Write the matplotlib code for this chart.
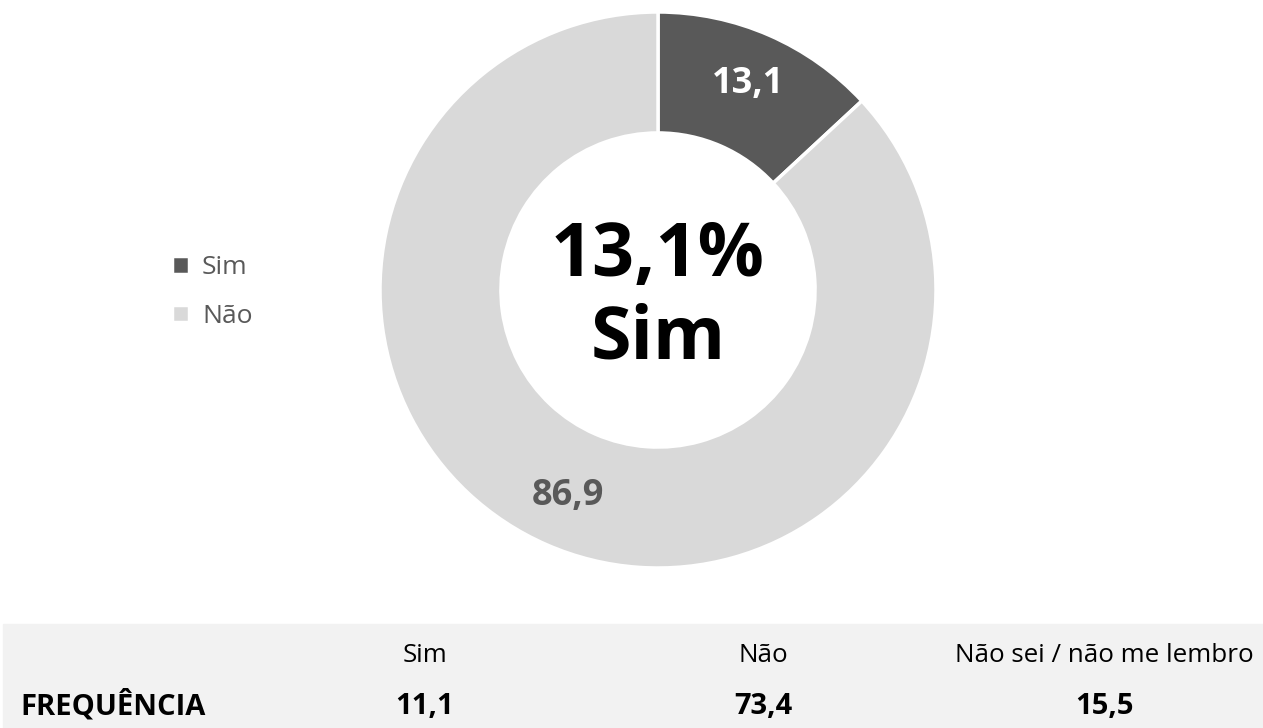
import matplotlib
matplotlib.use("Agg")
import matplotlib.pyplot as plt
from matplotlib.patches import Rectangle

plt.rcParams['font.family'] = ['Open Sans', 'DejaVu Sans']

# donut data
labels = ["Sim", "Não"]
values = [13.1, 86.9]
colors = ["#595959", "#d9d9d9"]
label_colors = ["white", "#595959"]
center_text = "13,1%\nSim"

# table data
table_header = ["Sim", "Não", "Não sei / não me lembro"]
table_row_name = "FREQUÊNCIA"
table_values = [11.1, 73.4, 15.5]


def fmt(v):
    return f"{v:.1f}".replace(".", ",")


fig = plt.figure(figsize=(12.63, 7.28), dpi=100)

# donut axes, square, centred near (658, 290) px
cx, cy, half = 658, 290, 280
ax = fig.add_axes([(cx - half) / 1263, (728 - cy - half) / 728,
                   2 * half / 1263, 2 * half / 728])
wedges, _, autotexts = ax.pie(
    values, colors=colors, startangle=90, counterclock=False,
    radius=1.0, autopct=lambda p: fmt(p), pctdistance=0.81,
    wedgeprops=dict(width=0.435, edgecolor="white", linewidth=2.5),
)
for t, c in zip(autotexts, label_colors):
    t.set_color(c)
    t.set_fontsize(26)
    t.set_fontweight("bold")
ax.set_xlim(-half / 278, half / 278)
ax.set_ylim(-half / 278, half / 278)
ax.set_aspect("equal")
ax.axis("off")

ax.text(0, -0.03, center_text, ha="center", va="center", fontsize=53,
        fontweight="bold", color="black", linespacing=1.15)

# legend
leg = fig.legend(wedges, labels, loc="center left",
                 bbox_to_anchor=(148 / 1263, 1 - 292 / 728), frameon=False,
                 fontsize=19, handlelength=0.65, handleheight=0.65,
                 handletextpad=0.5, labelspacing=0.9, labelcolor="#595959")

# table
fig.patches.append(Rectangle((3 / 1263, 0), 1 - 3 / 1263, 104 / 728,
                             transform=fig.transFigure, color="#f2f2f2",
                             zorder=0))
col_x = [425, 763, 1104]
y_head = 1 - 655 / 728
y_val = 1 - 706 / 728
for x, h, v in zip(col_x, table_header, table_values):
    fig.text(x / 1263, y_head, h, ha="center", va="center", fontsize=18.7,
             color="black")
    fig.text(x / 1263, y_val, fmt(v), ha="center", va="center",
             fontsize=21, fontweight="bold", color="black")
fig.text(20 / 1263, y_val, table_row_name, ha="left", va="center",
         fontsize=21, fontweight="bold", color="black")

fig.savefig("out.png", dpi=100, facecolor="white")
